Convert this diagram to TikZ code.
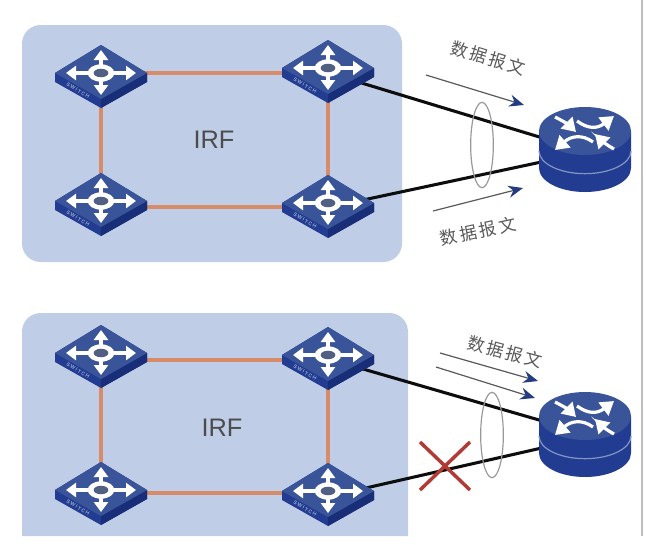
\documentclass[tikz,border=0pt]{standalone}
\usepackage{fontspec}
\setsansfont{Liberation Sans}
\newfontfamily\cjk{Noto Sans CJK SC}[LetterSpace=15]
\newfontfamily\tagfont{Liberation Sans}[LetterSpace=22]
\usetikzlibrary{arrows.meta, shapes.geometric}
\definecolor{panelblue}{RGB}{192, 205, 231}
\definecolor{linkorange}{RGB}{214, 140, 105}
\definecolor{devtop}{RGB}{58, 84, 154}
\definecolor{devside}{RGB}{33, 60, 145}
\definecolor{devdark}{RGB}{24, 46, 120}
\definecolor{arrownavy}{RGB}{35, 60, 130}
\definecolor{crossred}{RGB}{178, 58, 52}
\tikzset{
  panelbox/.style={fill=panelblue, rounded corners=14pt},
  irflink/.style={draw=linkorange, line width=3pt},
  datalink/.style={draw=black!95, line width=2.3pt},
  flowarrow/.style={draw=black!65, line width=0.9pt, -{Stealth[length=11pt, width=9pt, color=arrownavy]}},
  bundlering/.style={draw=black!40, line width=0.9pt, ellipse, inner sep=0pt, minimum width=17pt, minimum height=64pt},
  crossline/.style={draw=crossred, line width=2.6pt},
  irflabel/.style={font=\sffamily\fontsize{19}{19}\selectfont, text=black!70},
  datalabel/.style={font=\cjk\fontsize{13}{15}\selectfont, text=black!65},
  whitearrow/.style={draw=white, line width=3.2pt, -{Stealth[length=7.5pt, width=10.5pt, inset=0pt]}},
  routerarrow/.style={draw=white, line width=2.4pt, -{Stealth[length=10pt, width=12pt, inset=0pt]}},
  switchicon/.pic={
    \fill[devside] (-46,0) -- (0,-28) -- (46,0) -- (46,9) -- (0,35) -- (-46,9) -- cycle;
    \fill[devdark] (0,26) -- (46,0) -- (46,9) -- (0,35) -- cycle;
    \fill[devtop] (-46,0) -- (0,-28) -- (46,0) -- (0,26) -- cycle;
    \draw[whitearrow] (0,-4) -- (0,-23);
    \draw[whitearrow] (0,4) -- (0,22);
    \draw[whitearrow] (-6,0) -- (-35,0);
    \draw[whitearrow] (6,0) -- (35,0);
    \fill[white] (0,0) ellipse (10pt and 6.5pt);
    \fill[black!35!devtop!80!white] (0,0) ellipse (5.5pt and 3.2pt);
    \node[rotate=-30, text=white!80!devside, font=\tagfont\fontsize{3.8}{5}\selectfont, inner sep=0pt] (-tag) at (-23,17.5) {SWITCH};
  },
  routericon/.pic={
    \fill[devside] (-46,0) -- (-46,37) arc[start angle=180, end angle=360, x radius=34.5pt, y radius=18pt] -- (46,0) -- cycle;
    \draw[white!45!devside, line width=0.9pt] (-46,20) arc[start angle=180, end angle=360, x radius=34.5pt, y radius=17pt];
    \fill[devtop] (0,0) ellipse (34.5pt and 18pt);
    \draw[routerarrow] (-8,-10) .. controls (3,-2) and (12,-2) .. (29,-15);
    \draw[routerarrow] (8,11) .. controls (-3,3) and (-14,5) .. (-30,19);
    \draw[routerarrow] (-30,-14) .. controls (-22,-10) and (-16,-6) .. (-9,1);
    \draw[routerarrow] (29,18) .. controls (20,13) and (16,9) .. (10,3);
  },
}
\begin{document}
\begin{tikzpicture}[x=0.75pt, y=-0.75pt]
  \useasboundingbox (0,0) rectangle (646,544);
  % upper panel
  \coordinate (swa) at (101,73);
  \coordinate (swb) at (328,68);
  \coordinate (swc) at (101,201);
  \coordinate (swd) at (328,203);
  \coordinate (rta) at (585,131);
  \coordinate (lka) at (101,73);
  \coordinate (lkb) at (328,73);
  \coordinate (lkc) at (101,207);
  \coordinate (lkd) at (328,207);
  \coordinate (porta) at (332,74);
  \coordinate (portb) at (335,206);
  \coordinate (rtaa) at (546,139);
  \coordinate (rtab) at (546,161);
  \node[panelbox, minimum width=285pt, minimum height=177.75pt] (irfa) at (212,143.5) {};
  \draw[irflink] (lka) -- (lkb);
  \draw[irflink] (lka) -- (lkc);
  \draw[irflink] (lkb) -- (lkd);
  \draw[irflink] (lkc) -- (lkd);
  \draw[datalink] (porta) -- (rtaa);
  \draw[datalink] (portb) -- (rtab);
  \pic at (swa) {switchicon};
  \pic at (swb) {switchicon};
  \pic at (swc) {switchicon};
  \pic at (swd) {switchicon};
  \pic at (rta) {routericon};
  \node[irflabel] (irfatext) at (214,140) {IRF};
  \node[bundlering] (ringa) at (482,145) {};
  \coordinate (fa) at (426,75);
  \coordinate (fb) at (524,105);
  \coordinate (fc) at (433,211);
  \coordinate (fd) at (523,188);
  \draw[flowarrow] (fa) -- (fb);
  \draw[flowarrow] (fc) -- (fd);
  \node[datalabel, rotate=-17] (dataa) at (488,58) {数据报文};
  \node[datalabel, rotate=12] (datab) at (478,231) {数据报文};
  % lower panel
  \coordinate (swe) at (101,353);
  \coordinate (swf) at (328,355);
  \coordinate (swg) at (101,490);
  \coordinate (swh) at (328,491);
  \coordinate (rtb) at (585,416);
  \coordinate (lke) at (101,360);
  \coordinate (lkf) at (328,360);
  \coordinate (lkg) at (101,493);
  \coordinate (lkh) at (328,493);
  \coordinate (portc) at (332,360);
  \coordinate (portd) at (335,495);
  \coordinate (rtba) at (546,422);
  \coordinate (rtbb) at (546,447);
  \fill[panelblue] (22,536) [rounded corners=14pt] -- (22,313) -- (408,313) [sharp corners] -- (408,536) -- cycle;
  \draw[irflink] (lke) -- (lkf);
  \draw[irflink] (lke) -- (lkg);
  \draw[irflink] (lkf) -- (lkh);
  \draw[irflink] (lkg) -- (lkh);
  \draw[datalink] (portc) -- (rtba);
  \draw[datalink] (portd) -- (rtbb);
  \pic at (swe) {switchicon};
  \pic at (swf) {switchicon};
  \pic at (swg) {switchicon};
  \pic at (swh) {switchicon};
  \pic at (rtb) {routericon};
  \node[irflabel] (irfbtext) at (222,428) {IRF};
  \node[bundlering] (ringb) at (492,435) {};
  \coordinate (fe) at (440,353);
  \coordinate (ff) at (538,381);
  \coordinate (fg) at (436,367);
  \coordinate (fh) at (535,398);
  \draw[flowarrow] (fe) -- (ff);
  \draw[flowarrow] (fg) -- (fh);
  \node[datalabel, rotate=-15] (datac) at (505,352) {数据报文};
  \coordinate (xa) at (420,442);
  \coordinate (xb) at (470,490);
  \coordinate (xc) at (470,442);
  \coordinate (xd) at (420,490);
  \draw[crossline] (xa) -- (xb);
  \draw[crossline] (xc) -- (xd);
  \fill[black!25] (641,0) rectangle (643,536);
\end{tikzpicture}
\end{document}
